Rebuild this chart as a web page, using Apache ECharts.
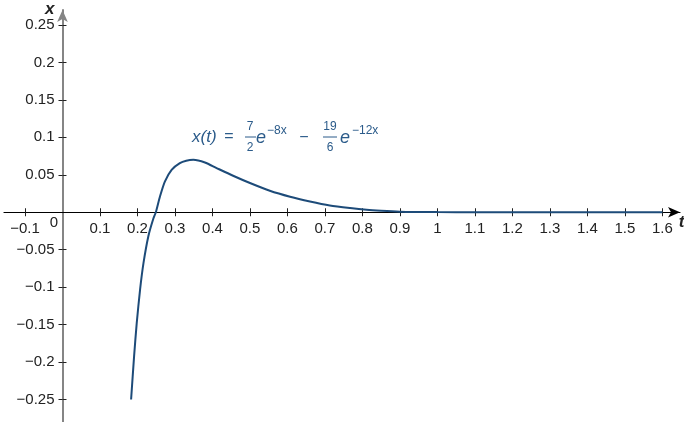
<!DOCTYPE html>
<html>
<head>
<meta charset="utf-8">
<script src="https://cdn.jsdelivr.net/npm/echarts@6/dist/echarts.min.js"></script>
<style>html,body{margin:0;padding:0;background:#fff}#c{width:684px;height:422px}</style>
</head>
<body>
<div id="c"></div>
<script>
// Data
var tValues = [0.183, 0.191, 0.198, 0.207, 0.216, 0.229, 0.242, 0.249, 0.26, 0.273, 0.291, 0.313, 0.33, 0.349, 0.38, 0.411, 0.455, 0.5, 0.553, 0.607, 0.66, 0.713, 0.767, 0.811, 0.85, 0.9, 0.95, 1.0, 1.1, 1.2, 1.3, 1.4, 1.5, 1.6];
var xValues = [-0.25, -0.192, -0.148, -0.103, -0.068, -0.032, -0.009, 0, 0.021, 0.041, 0.0567, 0.0656, 0.0688, 0.070, 0.0664, 0.059, 0.0487, 0.039, 0.0287, 0.0207, 0.0144, 0.0091, 0.0056, 0.0033, 0.002, 0.0008, 0.0004, 0.0002, 0, 0, 0, 0, 0, 0];
var xTicks = [-0.1, 0.1, 0.2, 0.3, 0.4, 0.5, 0.6, 0.7, 0.8, 0.9, 1, 1.1, 1.2, 1.3, 1.4, 1.5, 1.6];
var yTicks = [-0.25, -0.2, -0.15, -0.1, -0.05, 0.05, 0.1, 0.15, 0.2, 0.25];

var curveColor = '#1d4b79';
var textColor = '#2b5b8a';
var fontFam = '"Liberation Sans", Arial, sans-serif';

function fmt(v) { var s = String(Math.round(v * 100) / 100); return s.replace('-', '\u2212'); }

var chart = echarts.init(document.getElementById('c'), null, {renderer: 'canvas'});
var pts = tValues.map(function (t, i) { return [t, xValues[i]]; });

var xMin = -0.156, xMax = 1.647, yMin = -0.28, yMax = 0.27;

function xAx(pos, showMain, off) {
  return {
    type: 'value', min: xMin, max: xMax, position: pos, offset: off,
    axisLine: {show: true, onZero: false,
      symbol: showMain ? ['none', 'arrow'] : 'none', symbolSize: [8, 12],
      lineStyle: {color: '#000', width: 1.2, opacity: showMain ? 1 : 0}},
    axisTick: {show: true, inside: false, length: 4, customValues: xTicks, lineStyle: {color: '#222', width: 1}},
    axisLabel: {show: showMain, customValues: xTicks, formatter: fmt, margin: 9,
      color: '#222', fontSize: 15, fontFamily: fontFam},
    splitLine: {show: false},
    name: showMain ? 't' : '', nameLocation: 'end', nameGap: 1,
    nameTextStyle: {fontStyle: 'italic', fontWeight: 'bold', fontSize: 17, color: '#222', fontFamily: fontFam,
      align: 'center', verticalAlign: 'top', padding: [2, 0, 0, 0]}
  };
}
function yAx(pos, showMain, off) {
  return {
    type: 'value', min: yMin, max: yMax, position: pos, offset: off,
    axisLine: {show: true, onZero: false,
      symbol: showMain ? ['none', 'arrow'] : 'none', symbolSize: [8, 12],
      lineStyle: {color: '#858585', width: 2, opacity: showMain ? 1 : 0}},
    axisTick: {show: true, inside: false, length: 4, customValues: yTicks, lineStyle: {color: '#222', width: 1}},
    axisLabel: {show: showMain, customValues: yTicks, formatter: fmt, margin: 8,
      color: '#222', fontSize: 15, fontFamily: fontFam},
    splitLine: {show: false},
    name: showMain ? 'x' : '', nameLocation: 'end', nameGap: 0,
    nameTextStyle: {fontStyle: 'italic', fontWeight: 'bold', fontSize: 17, color: '#222', fontFamily: fontFam,
      align: 'right', verticalAlign: 'middle', padding: [0, 8, 0, 0]}
  };
}

function build(o, r) {
  var offB = o ? -(r.y + r.height - o[1]) : 0;
  var offT = o ? -(o[1] - r.y) : 0;
  var offL = o ? -(o[0] - r.x) : 0;
  var offR = o ? -(r.x + r.width - o[0]) : 0;
  return {
    animation: false,
    backgroundColor: '#fff',
    grid: {left: 4, right: 4, top: 10, bottom: 0, containLabel: false, outerBoundsMode: 'none'},
    xAxis: [xAx('bottom', true, offB), xAx('top', false, offT)],
    yAxis: [yAx('left', true, offL), yAx('right', false, offR)],
    series: [{
      type: 'line', data: pts, xAxisIndex: 0, yAxisIndex: 0,
      showSymbol: false, smooth: 0.25, clip: false,
      lineStyle: {color: curveColor, width: 2}
    }]
  };
}

chart.setOption(build(null, null));
var o = chart.convertToPixel({xAxisIndex: 0, yAxisIndex: 0}, [0, 0]);
var p0 = chart.convertToPixel({xAxisIndex: 0, yAxisIndex: 0}, [xMin, yMin]);
var p1 = chart.convertToPixel({xAxisIndex: 0, yAxisIndex: 0}, [xMax, yMax]);
var rect = {x: p0[0], y: p1[1], width: p1[0] - p0[0], height: p0[1] - p1[1]};
chart.setOption(build(o, rect));

function txt(s, x, y, size, align, italic) {
  return {type: 'text', z: 10, style: {text: s, x: x, y: y, fill: textColor,
    font: (italic ? 'italic ' : '') + size + 'px ' + fontFam, textAlign: align || 'left', textVerticalAlign: 'middle'}};
}
function bar(x1, x2, y) {
  return {type: 'line', z: 10, shape: {x1: x1, y1: y, x2: x2, y2: y}, style: {stroke: textColor, lineWidth: 1}};
}
chart.setOption({
  graphic: [
    {type: 'text', style: {text: '0', x: o[0] - 8.5, y: o[1] + 10.5, fill: '#222', font: '15px ' + fontFam,
      textAlign: 'center', textVerticalAlign: 'middle'}},
    txt('x(t)', 192, 137, 17, 'left', true),
    txt('=', 229, 137, 16, 'center', false),
    txt('7', 250, 127, 12, 'center', false),
    bar(245, 256, 137),
    txt('2', 250, 148, 12, 'center', false),
    txt('e', 256, 138, 18, 'left', true),
    txt('\u22128x', 267, 131, 12, 'left', false),
    txt('\u2212', 304, 138, 16, 'center', false),
    txt('19', 330, 127, 12, 'center', false),
    bar(323, 337, 137),
    txt('6', 330, 148, 12, 'center', false),
    txt('e', 340, 138, 18, 'left', true),
    txt('\u221212x', 352, 131, 12, 'left', false)
  ]
});
</script>
</body>
</html>
